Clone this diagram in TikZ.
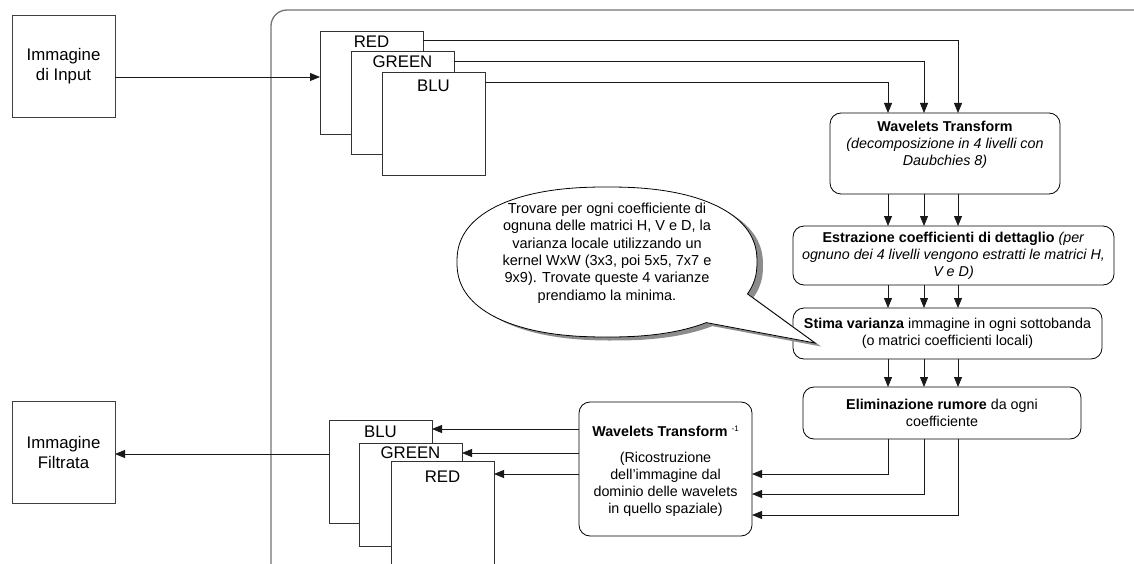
\documentclass[tikz,border=0pt]{standalone}
\usepackage{fontspec}
\setmainfont{Liberation Sans}
\usetikzlibrary{arrows.meta,calc}

\begin{document}
\begin{tikzpicture}[x=1pt,y=-1pt,
  every node/.style={inner sep=0pt, outer sep=0pt},
  imgbox/.style={draw=black!80, line width=0.8pt, fill=white, minimum width=103pt, minimum height=103pt},
  iobox/.style={draw=black!75, line width=0.8pt, fill=white, minimum width=103pt, minimum height=102pt,
                align=center, font=\fontsize{16.8}{20}\selectfont},
  chan/.style={font=\fontsize{16.8}{20}\selectfont},
  stepbox/.style={draw=black, line width=0.8pt, rounded corners=11pt, fill=white, align=center,
                  font=\fontsize{14.3}{17}\selectfont},
  txt/.style={align=center, font=\fontsize{14.3}{17}\selectfont},
  arr/.style={draw=black!90, line width=0.8pt, -{Triangle[length=10pt,width=8pt]}},
]
\useasboundingbox (0,0) rectangle (1134,564);
\clip (0,0) rectangle (1134,564);

% processing area
\draw[draw=black!55, line width=1.3pt, rounded corners=16pt] (271,10) rectangle (1170,600);

% input / output images
\node[iobox] (in)  at (63.5,66)  {Immagine\\di Input};
\node[iobox] (out) at (63.5,452) {Immagine\\Filtrata};

% input channels
\node[imgbox] (tR) at (371.5,82.5) {};
\node[chan] (tRl) at (371.5,42) {RED};
\node[imgbox] (tG) at (402.5,103) {};
\node[chan] (tGl) at (402.5,62) {GREEN};
\node[imgbox] (tB) at (433.5,123.5) {};
\node[chan] (tBl) at (433.5,86) {BLU};

% output channels
\node[imgbox] (bB) at (380.5,472) {};
\node[chan] (bBl) at (380.5,432) {BLU};
\node[imgbox] (bG) at (410.5,494.5) {};
\node[chan] (bGl) at (410.5,453) {GREEN};
\node[imgbox] (bR) at (442.5,512.5) {};
\node[chan] (bRl) at (442.5,477) {RED};

% processing steps
\node[stepbox, minimum width=230pt, minimum height=81pt] (wt) at (945,153.5) {};
\node[txt] (wtl) at (945,145) {\textbf{Wavelets Transform}\\\textit{(decomposizione in 4 livelli con}\\\textit{Daubchies 8)}};

\node[stepbox, minimum width=321pt, minimum height=59pt] (ex) at (953.5,255.5)
  {\textbf{Estrazione coefficienti di dettaglio} \textit{(per}\\
   \textit{ognuno dei 4 livelli vengono estratti le matrici H,}\\
   \textit{V e D)}};

\node[stepbox, minimum width=309pt, minimum height=51pt] (sv) at (947.5,333.5)
  {\textbf{Stima varianza} immagine in ogni sottobanda\\(o matrici coefficienti locali)};

\node[stepbox, minimum width=278pt, minimum height=52pt] (el) at (942,413)
  {\textbf{Eliminazione rumore} da ogni\\coefficiente};

\node[stepbox, minimum width=173pt, minimum height=134pt] (inv) at (665.5,469) {};
\node[txt] (invt) at (665.5,431) {\textbf{Wavelets Transform} \raisebox{5pt}{\fontsize{8}{8}\selectfont -1}};
\node[txt] (invl) at (665.5,484.5) {(Ricostruzione\\dell’immagine dal\\dominio delle wavelets\\in quello spaziale)};

% speech bubble (slightly squared oval) with shadow
\begin{scope}[shift={(6,3.5)}]
  \fill[black!45] plot[domain=51.5:382, samples=160, variable=\t]
    ({607+150*sign(cos(\t))*pow(abs(cos(\t)),0.87)},{262+75*sign(sin(\t))*pow(abs(sin(\t)),0.87)})
    -- (815,343) -- cycle;
\end{scope}
\draw[black, line width=0.8pt, fill=white, line join=miter] plot[domain=51.5:382, samples=160, variable=\t]
    ({607+150*sign(cos(\t))*pow(abs(cos(\t)),0.87)},{262+75*sign(sin(\t))*pow(abs(sin(\t)),0.87)})
    -- (815,343) -- cycle;
\node[txt, font=\fontsize{14.5}{17.3}\selectfont] (note) at (607,253)
  {Trovare per ogni coefficiente di\\ognuna delle matrici H, V e D, la\\varianza locale utilizzando un\\
   kernel WxW (3x3, poi 5x5, 7x7 e\\9x9). Trovate queste 4 varianze\\prendiamo la minima.};

% column and row guides
\coordinate (k1) at (888,0);
\coordinate (k2) at (924,0);
\coordinate (k3) at (958,0);
\coordinate (r1) at (0,474);
\coordinate (r2) at (0,494);
\coordinate (r3) at (0,515);

% input to channels
\draw[arr] ($(in.east)+(0,11)$) -- (tR.west |- {$(in.east)+(0,11)$});

% channels to transform
\draw[arr] ($(tR.north east)+(0,9)$) -| (k3 |- wt.north);
\draw[arr] ($(tG.north east)+(0,9.5)$) -| (k2 |- wt.north);
\draw[arr] ($(tB.north east)+(0,10)$) -| (k1 |- wt.north);

% step to step
\foreach \k in {k1,k2,k3} {
  \draw[arr] (\k |- wt.south) -- (\k |- ex.north);
  \draw[arr] (\k |- ex.south) -- (\k |- sv.north);
  \draw[arr] (\k |- sv.south) -- (\k |- el.north);
}

% denoised coefficients to inverse transform
\draw[arr] (k1 |- el.south) |- (inv.east |- r1);
\draw[arr] (k2 |- el.south) |- (inv.east |- r2);
\draw[arr] (k3 |- el.south) |- (inv.east |- r3);

% inverse transform to channels
\draw[arr] (inv.west |- 0,429) -- (bB.east |- 0,429);
\draw[arr] (inv.west |- 0,453) -- (bG.east |- 0,453);
\draw[arr] (inv.west |- r1) -- (bR.east |- r1);

% channels to output
\draw[arr] (bB.west |- 0,454) -- (out.east |- 0,454);
\end{tikzpicture}
\end{document}
